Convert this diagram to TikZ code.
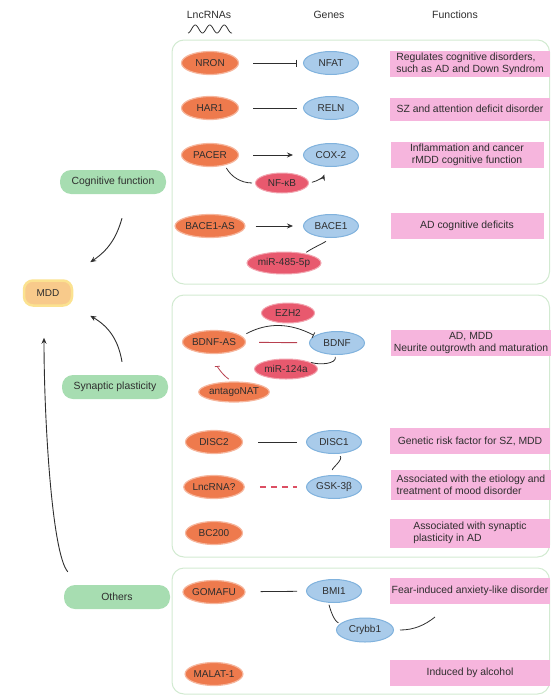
\documentclass[tikz,border=0pt]{standalone}
\usepackage{fontspec}
\setmainfont{Liberation Sans}
\usepackage{tikz}
\usetikzlibrary{arrows.meta, shapes.geometric, calc}

\definecolor{lncOrange}{HTML}{EE7A4D}
\definecolor{geneBlue}{HTML}{A9CBEA}
\definecolor{geneEdge}{HTML}{80B2DD}
\definecolor{mirRed}{HTML}{E8596E}
\definecolor{funcPink}{HTML}{F6B5DD}
\definecolor{catGreen}{HTML}{A7DDB1}
\definecolor{mddFill}{HTML}{F8CA8B}
\definecolor{mddEdge}{HTML}{FBE290}
\definecolor{panelGreen}{HTML}{D2EAD1}
\definecolor{inkGray}{HTML}{2E2E2E}
\definecolor{bondRed}{HTML}{B8404F}
\definecolor{dashRed}{HTML}{DC4F63}

\begin{document}
\begin{tikzpicture}[x=1pt, y=-1pt, >={Stealth[length=6pt, width=5pt]},
    font=\fontsize{10}{11.5}\selectfont, text=inkGray,
    lnc/.style={ellipse, fill=lncOrange, draw=lncOrange!55!white, line width=1.2pt,
        minimum width=57pt, minimum height=23pt, inner sep=0pt},
    gene/.style={ellipse, fill=geneBlue, draw=geneEdge, line width=1pt,
        minimum width=55pt, minimum height=23pt, inner sep=0pt},
    mir/.style={ellipse, fill=mirRed, draw=mirRed!55!white, line width=1pt,
        minimum width=53pt, minimum height=20pt, inner sep=0pt},
    func/.style={fill=funcPink, minimum width=160pt, minimum height=26pt,
        inner sep=2pt, align=center, font=\fontsize{10.4}{12}\selectfont},
    cat/.style={fill=catGreen, rounded corners=11pt, minimum width=106pt, minimum height=24pt,
        font=\fontsize{10.4}{12}\selectfont},
    mddbox/.style={fill=mddFill, draw=mddEdge, line width=2.5pt, rounded corners=9pt,
        minimum width=48pt, minimum height=25pt},
    panel/.style={draw=panelGreen, line width=1pt, rounded corners=12pt},
    link/.style={draw=inkGray, line width=0.8pt, shorten <=14pt, shorten >=6pt},
    curl/.style={draw=inkGray, line width=0.8pt},
    flow/.style={draw=inkGray, line width=0.9pt, ->},
    head/.style={font=\fontsize{10.5}{12}\selectfont},
]
    \useasboundingbox (0,0) rectangle (551,696);

    % column heads
    \node[head] (hLnc) at (209,15) {LncRNAs};
    \node[head] (hGenes) at (329,15) {Genes};
    \node[head] (hFunc) at (455,15) {Functions};
    \draw[inkGray, line width=0.8pt] plot[domain=0:44, samples=80, smooth]
        ({188+\x}, {29+4*cos(\x*360/14.5)});

    % the three panels
    \draw[panel] (172,40) rectangle (549.5,284);
    \draw[panel] (172,295) rectangle (549.5,557);
    \draw[panel] (172,568) rectangle (549.5,694);

    % cognitive function
    \node[lnc] (nron) at (210,63) {NRON};
    \node[gene] (nfat) at (331,63) {NFAT};
    \node[func, align=left] (fNron) at (470,64) {Regulates cognitive disorders,\\such as AD and Down Syndrom};
    \draw[link, -{Bar[width=7pt]}] (nron) -- (nfat);

    \node[lnc] (har1) at (210,108) {HAR1};
    \node[gene] (reln) at (331,108) {RELN};
    \node[func, minimum height=23pt] (fHar1) at (470,109) {SZ and attention deficit disorder};
    \draw[link] (har1) -- (reln);

    \node[lnc] (pacer) at (210,155) {PACER};
    \node[gene] (cox2) at (331,155) {COX-2};
    \node[mir] (nfkb) at (282,183) {NF-κB};
    \node[func, minimum width=153pt] (fPacer) at (467,155) {Inflammation and cancer\\rMDD cognitive function};
    \draw[link, ->, shorten >=10pt] (pacer) -- (cox2);
    \draw[curl, shorten <=3pt, shorten >=3pt] (pacer.-35) to[bend right=30] (nfkb.west);
    \draw[curl, ->, shorten <=3pt, shorten >=8pt] (nfkb.east) to[bend right=30] (cox2.-110);

    \node[lnc, minimum width=66pt] (bace1as) at (210,226) {BACE1-AS};
    \node[gene] (bace1) at (331,226) {BACE1};
    \node[mir, minimum width=74pt, minimum height=22pt] (mir485) at (284,263) {miR-485-5p};
    \node[func, minimum width=153pt] (fBace) at (467,226) {AD cognitive deficits};
    \draw[link, ->, shorten <=10pt, shorten >=10pt] (bace1as) -- (bace1);
    \draw[curl, shorten <=2pt, shorten >=6pt] (mir485.25) .. controls +(9,-6) and +(-9,6) .. (bace1.-90);

    % synaptic plasticity
    \node[mir] (ezh2) at (288,313) {EZH2};
    \node[lnc, minimum width=63pt] (bdnfas) at (214,342) {BDNF-AS};
    \node[gene] (bdnf) at (337,343) {BDNF};
    \node[mir, minimum width=63pt] (mir124) at (286,369) {miR-124a};
    \node[lnc, minimum width=64pt, minimum height=20pt] (antago) at (234,392) {antagoNAT};
    \node[func] (fBdnf) at (471,343) {AD, MDD\\Neurite outgrowth and maturation};
    \draw[curl, -{Bar[width=6pt]}, shorten <=5pt, shorten >=1pt] (bdnfas.12) to[bend left=28] (bdnf.162);
    \draw[bondRed, line width=0.9pt, shorten <=13pt, shorten >=12pt] (bdnfas) -- (bdnf);
    \draw[curl, shorten <=4pt, shorten >=2pt] (mir124.20) .. controls +(12,4) and +(2,9) .. (bdnf.-100);
    \draw[draw=bondRed, line width=0.8pt, -{Bar[width=5pt]}, shorten <=4pt, shorten >=12pt] (antago.100) to[bend left=25] (bdnfas.-80);

    \node[lnc] (disc2) at (214,442) {DISC2};
    \node[gene] (disc1) at (334,442) {DISC1};
    \node[func] (fDisc) at (470,441) {Genetic risk factor for SZ, MDD};
    \draw[link, shorten <=15pt, shorten >=9pt] (disc2) -- (disc1);

    \node[lnc] (lncq) at (214,487) {LncRNA?};
    \node[gene] (gsk) at (334,487) {GSK-3β};
    \node[func, align=left, minimum height=30pt] (fGsk) at (471,485) {Associated with the etiology and\\treatment of mood disorder};
    \draw[link, draw=dashRed, line width=1.1pt, dash pattern=on 6pt off 5pt, shorten <=15pt, shorten >=9pt] (lncq) -- (gsk);
    \draw[curl, shorten <=3pt, shorten >=5pt] (disc1.-70) .. controls +(5,6) and +(-1,-7) .. (gsk.95);

    \node[lnc] (bc200) at (214,533) {BC200};
    \node[func, align=left, minimum height=29pt] (fBc) at (470,533) {Associated with synaptic\\plasticity in AD};

    % others
    \node[lnc] (gomafu) at (214,592) {GOMAFU};
    \node[gene] (bmi1) at (334,591) {BMI1};
    \node[func] (fGom) at (470,591) {Fear-induced anxiety-like disorder};
    \draw[link, shorten <=15pt, shorten >=9pt] (gomafu) -- (bmi1);
    \node[gene, minimum width=57pt, minimum height=24pt] (crybb1) at (365,630) {Crybb1};
    \draw[curl, shorten <=2pt, shorten >=2pt] (bmi1.-115) .. controls +(2,8) and +(-6,-2) .. (crybb1.165);
    \coordinate (crybbEnd) at (435,617);
    \draw[curl, shorten <=6pt] (crybb1.east) .. controls +(20,0) and +(-10,8) .. (crybbEnd);

    \node[lnc] (malat) at (214,674) {MALAT-1};
    \node[func] (fMalat) at (470,673) {Induced by alcohol};

    % left column
    \node[cat] (cog) at (113,182) {Cognitive function};
    \node[mddbox] (mdd) at (48,293) {MDD};
    \node[cat] (syn) at (115,387) {Synaptic plasticity};
    \node[cat] (oth) at (117,597) {Others};

    \draw[flow] ($(cog.south)+(9,24)$) to[bend left=20] ($(mdd.north east)+(17,-17)$);
    \draw[flow] ($(syn.north)+(7,-13)$) to[bend right=25] ($(mdd.south east)+(17,9)$);
    \draw[flow] ($(oth.north west)+(4,-13)$) .. controls +(-16,-18) and +(0,80) .. ($(mdd.south)+(-4,31)$);
\end{tikzpicture}
\end{document}
